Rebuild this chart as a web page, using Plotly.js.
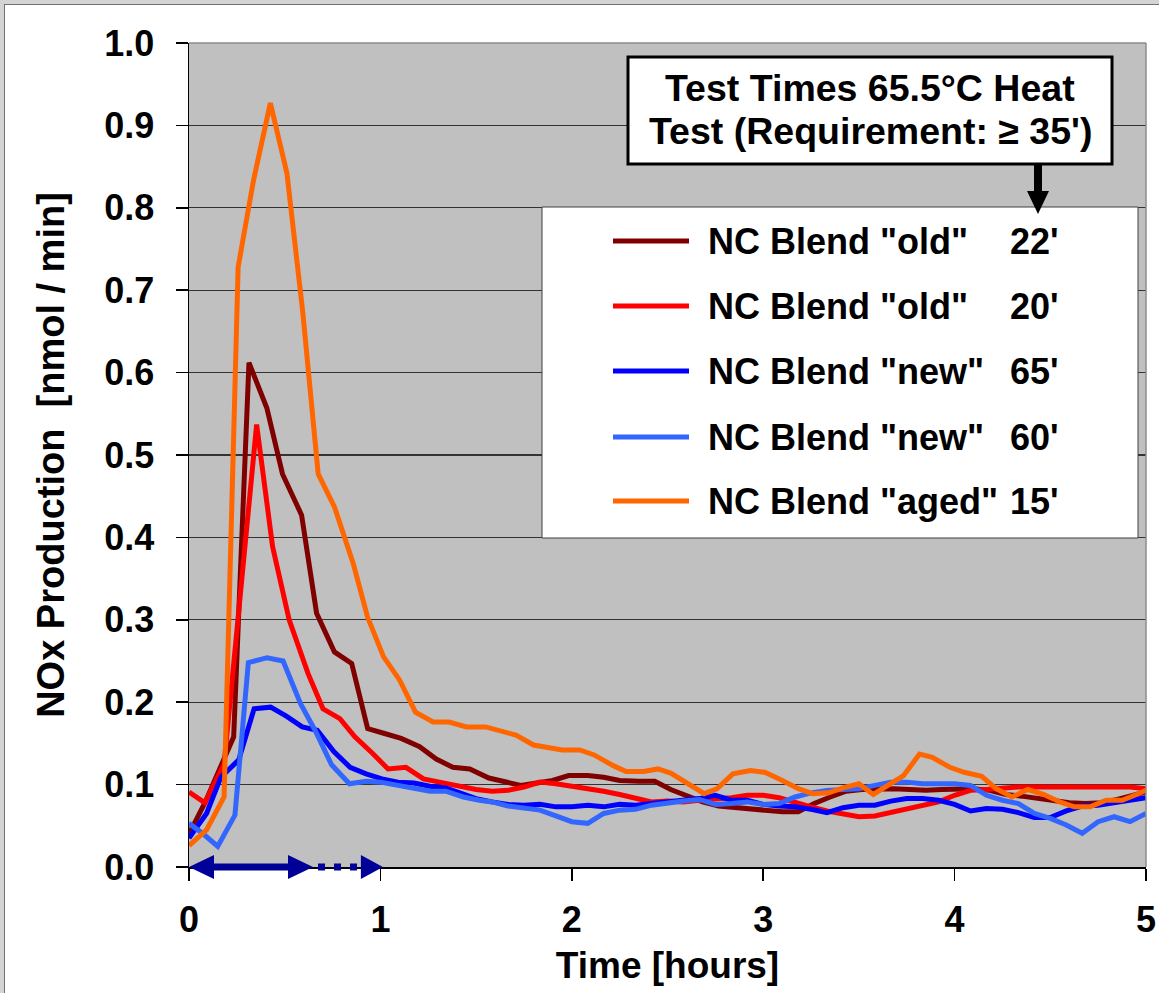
<!DOCTYPE html>
<html>
<head>
<meta charset="utf-8">
<script src="https://cdn.plot.ly/plotly-3.0.1.min.js"></script>
<style>
  html, body { margin: 0; padding: 0; background: #ffffff; }
  #chart { width: 1159px; height: 993px; }
</style>
</head>
<body>
<div id="chart"></div>
<script>
// ---------------- data (time in minutes, NOx in nmol/min) ----------------
const seriesNames = ['NC Blend "old"', 'NC Blend "old"', 'NC Blend "new"', 'NC Blend "new"', 'NC Blend "aged"'];
const testTimes = ["22'", "20'", "65'", "60'", "15'"];
const seriesColors = ['#800000', '#FF0000', '#0000FF', '#3366FF', '#FF6600'];

const timeOld22 = [0, 5, 9.5, 14, 18.8, 24.4, 29.3, 35.3, 40, 45.6, 51, 56, 61.3, 66.5, 72.3, 77.5, 82.7, 88, 94, 99,
  104, 109, 114, 119, 125, 130, 135, 141, 146, 151, 156, 161, 166, 171, 176, 181, 186, 191, 196, 201,
  206, 211, 216, 221, 226, 231, 236, 241, 246, 251, 256, 261, 266, 271, 276, 281, 286, 291, 296, 300];
const noxOld22 = [0.040, 0.078, 0.118, 0.158, 0.612, 0.557, 0.477, 0.427, 0.308, 0.261, 0.247, 0.168, 0.162, 0.156, 0.146, 0.131, 0.121, 0.119, 0.108, 0.104,
  0.099, 0.102, 0.105, 0.111, 0.111, 0.109, 0.105, 0.104, 0.104, 0.094, 0.086, 0.079, 0.074, 0.072, 0.071, 0.068, 0.067, 0.067, 0.077, 0.085,
  0.092, 0.094, 0.095, 0.095, 0.094, 0.093, 0.094, 0.095, 0.095, 0.093, 0.088, 0.086, 0.083, 0.080, 0.078, 0.077, 0.078, 0.082, 0.087, 0.091];

const timeOld20 = [0, 5, 11, 16, 21.2, 26.2, 31.4, 37.3, 42, 47.3, 52, 57.5, 62.4, 68, 73.5, 78.5, 84,
  90, 95, 100, 105, 110, 115, 120, 125, 130, 135, 140, 145, 150, 155, 160, 165, 170, 175, 180, 185,
  190, 195, 200, 205, 210, 215, 220, 225, 230, 235, 240, 245, 250, 255, 260, 265, 270, 275, 280, 285, 290, 295, 300];
const noxOld20 = [0.091, 0.078, 0.125, 0.327, 0.537, 0.389, 0.300, 0.235, 0.192, 0.180, 0.158, 0.138, 0.119, 0.121, 0.107, 0.103, 0.099,
  0.094, 0.092, 0.093, 0.097, 0.103, 0.101, 0.098, 0.096, 0.092, 0.088, 0.083, 0.079, 0.080, 0.079, 0.081, 0.082, 0.084, 0.087, 0.087, 0.084,
  0.078, 0.073, 0.068, 0.064, 0.061, 0.062, 0.066, 0.070, 0.075, 0.079, 0.087, 0.093, 0.094, 0.096, 0.097, 0.097, 0.097, 0.097, 0.097, 0.097, 0.097, 0.097, 0.095];

const timeNew65 = [0, 5.5, 10, 15.6, 20.4, 25.6, 30.5, 35.5, 40.2, 45.4, 50.5, 55.5, 60.5, 65.5, 70.5, 75.5, 80.5, 85.5,
  90, 95, 100, 105, 110, 115, 120, 125, 130, 135, 140, 145, 150, 155, 160, 165, 170, 175, 180, 185,
  190, 195, 200, 205, 210, 215, 220, 225, 230, 235, 240, 245, 250, 255, 260, 265, 270, 275, 280, 285, 290, 295, 300];
const noxNew65 = [0.035, 0.065, 0.109, 0.130, 0.192, 0.194, 0.183, 0.170, 0.166, 0.140, 0.121, 0.113, 0.107, 0.103, 0.102, 0.098, 0.096, 0.089,
  0.083, 0.079, 0.076, 0.075, 0.076, 0.073, 0.073, 0.075, 0.073, 0.076, 0.075, 0.077, 0.079, 0.081, 0.083, 0.087, 0.081, 0.081, 0.076, 0.074,
  0.073, 0.070, 0.066, 0.072, 0.075, 0.075, 0.080, 0.083, 0.083, 0.081, 0.076, 0.068, 0.071, 0.070, 0.066, 0.060, 0.060, 0.068, 0.074, 0.075, 0.078, 0.081, 0.084];

const timeNew60 = [0, 4.5, 9, 14.4, 18.6, 24.5, 29.5, 35, 39.5, 44.7, 50.3, 55.5, 60, 65, 70, 75.5, 80.5, 86, 91,
  95, 100, 105, 110, 115, 120, 125, 130, 135, 140, 145, 150, 155, 160, 165, 170, 175, 180, 185, 190,
  195, 200, 205, 210, 215, 220, 225, 230, 235, 240, 245, 250, 255, 260, 265, 270, 275, 280, 285, 290, 295, 300];
const noxNew60 = [0.053, 0.040, 0.025, 0.063, 0.248, 0.254, 0.250, 0.198, 0.166, 0.124, 0.101, 0.104, 0.103, 0.099, 0.096, 0.092, 0.092, 0.085, 0.081,
  0.079, 0.074, 0.071, 0.069, 0.062, 0.055, 0.053, 0.065, 0.069, 0.070, 0.075, 0.078, 0.080, 0.082, 0.076, 0.077, 0.079, 0.076, 0.077, 0.085,
  0.090, 0.093, 0.094, 0.095, 0.099, 0.103, 0.103, 0.101, 0.101, 0.101, 0.099, 0.087, 0.081, 0.077, 0.065, 0.059, 0.051, 0.041, 0.055, 0.061, 0.055, 0.065];

const timeAged15 = [0, 5.5, 11, 15.4, 20.2, 25.5, 30.7, 35.7, 40.5, 45.6, 51.5, 56, 61, 66, 71, 76.5, 81.5, 87, 93, 97.5,
  102.5, 108, 113, 117, 122.5, 127, 133, 137, 142.5, 147, 151, 157, 161.5, 165.5, 170.5, 176, 180.5, 186, 191, 195.5,
  200.5, 205, 210, 214.5, 219, 224, 229, 233, 238.5, 243, 248.5, 253, 258, 263, 268, 273, 277.5, 282.5, 287.5, 292.5, 297, 300];
const noxAged15 = [0.026, 0.045, 0.085, 0.728, 0.833, 0.927, 0.842, 0.672, 0.477, 0.437, 0.368, 0.303, 0.255, 0.227, 0.188, 0.176, 0.176, 0.170, 0.170, 0.166,
  0.160, 0.148, 0.144, 0.142, 0.142, 0.136, 0.123, 0.116, 0.116, 0.119, 0.114, 0.099, 0.089, 0.095, 0.113, 0.117, 0.115, 0.105, 0.095, 0.089,
  0.090, 0.096, 0.101, 0.088, 0.099, 0.111, 0.137, 0.133, 0.121, 0.115, 0.110, 0.095, 0.085, 0.094, 0.088, 0.079, 0.073, 0.073, 0.081, 0.081, 0.088, 0.093];

const xTickVals = [0, 1, 2, 3, 4, 5];
const yTickVals = [0, 0.1, 0.2, 0.3, 0.4, 0.5, 0.6, 0.7, 0.8, 0.9, 1.0];
const xTitle = 'Time [hours]';
const yTitle = 'NOx Production  [nmol / min]';
const noteLines = ['Test Times 65.5°C Heat', "Test (Requirement: \u2265 35')"];
// requirement arrow along the time axis (hours)
const reqSolidEnd = 0.648;
const reqDottedEnd = 1.013;

// ---------------- layout helpers (pixel -> paper) ----------------
const W = 1159, H = 993;
const PL = 189, PT = 43, PR = 1146, PB = 867;
const PW = PR - PL, PH = PB - PT;
const X = p => (p - PL) / PW;
const Y = p => (PB - p) / PH;
const xRange = [0, 5];
const hoursToPaper = t => (t - xRange[0]) / (xRange[1] - xRange[0]);
const hoursToPx = t => PL + hoursToPaper(t) * PW;

const FONT = 'Arial, "Liberation Sans", Helvetica, sans-serif';
const bold = (size, color) => ({ family: FONT, size: size, color: color || '#000000', weight: 700 });

const times = [timeOld22, timeOld20, timeNew65, timeNew60, timeAged15];
const values = [noxOld22, noxOld20, noxNew65, noxNew60, noxAged15];

const traces = values.map((v, i) => ({
  type: 'scatter',
  mode: 'lines',
  x: times[i].map(m => m / 60),
  y: v,
  name: seriesNames[i] + ' ' + testTimes[i],
  line: { color: seriesColors[i], width: 5 },
  showlegend: false,
  hoverinfo: 'skip'
}));

const shapes = [];
const annotations = [];

// outer window frame
shapes.push({ type: 'rect', xref: 'paper', yref: 'paper', x0: X(0), x1: X(W), y0: Y(0), y1: Y(4), fillcolor: '#d4d4d4', line: { width: 0 }, layer: 'above' });
shapes.push({ type: 'rect', xref: 'paper', yref: 'paper', x0: X(0), x1: X(4), y0: Y(0), y1: Y(H), fillcolor: '#d4d4d4', line: { width: 0 }, layer: 'above' });
shapes.push({ type: 'line', xref: 'paper', yref: 'paper', x0: X(4), x1: X(W), y0: Y(4.5), y1: Y(4.5), line: { color: '#707070', width: 1 }, layer: 'above' });
shapes.push({ type: 'line', xref: 'paper', yref: 'paper', x0: X(4.5), x1: X(4.5), y0: Y(4), y1: Y(H), line: { color: '#707070', width: 1 }, layer: 'above' });

// plot area top/right border (gray)
shapes.push({ type: 'line', xref: 'paper', yref: 'paper', x0: 0, x1: 1, y0: 1, y1: 1, line: { color: '#8c8c8c', width: 1.5 }, layer: 'above' });
shapes.push({ type: 'line', xref: 'paper', yref: 'paper', x0: 1, x1: 1, y0: 0, y1: 1, line: { color: '#8c8c8c', width: 1.5 }, layer: 'above' });

// legend box
const LEG = { x0: 542, x1: 1138, y0: 207, y1: 538 };
shapes.push({ type: 'rect', xref: 'paper', yref: 'paper', x0: X(LEG.x0), x1: X(LEG.x1), y0: Y(LEG.y1), y1: Y(LEG.y0),
  fillcolor: '#ffffff', line: { color: '#404040', width: 1 }, layer: 'above' });
const legRows = [241, 306, 371, 437, 501];
seriesNames.forEach((nm, i) => {
  shapes.push({ type: 'line', xref: 'paper', yref: 'paper', x0: X(613), x1: X(689), y0: Y(legRows[i]), y1: Y(legRows[i]),
    line: { color: seriesColors[i], width: 5 }, layer: 'above' });
  annotations.push({ xref: 'paper', yref: 'paper', x: X(706), y: Y(legRows[i]), xanchor: 'left', yanchor: 'middle',
    text: nm, showarrow: false, font: bold(36) });
  annotations.push({ xref: 'paper', yref: 'paper', x: X(1008), y: Y(legRows[i]), xanchor: 'left', yanchor: 'middle',
    text: testTimes[i], showarrow: false, font: bold(36) });
});

// note box + arrow
shapes.push({ type: 'rect', xref: 'paper', yref: 'paper', x0: X(628), x1: X(1112), y0: Y(164), y1: Y(57),
  fillcolor: '#ffffff', line: { color: '#000000', width: 3 }, layer: 'above' });
const noteRows = [88, 131];
noteLines.forEach((ln, i) => {
  annotations.push({ xref: 'paper', yref: 'paper', x: X(870), y: Y(noteRows[i]), xanchor: 'center', yanchor: 'middle',
    text: ln, showarrow: false, align: 'center', font: bold(37.5) });
});
shapes.push({ type: 'line', xref: 'paper', yref: 'paper', x0: X(1038), x1: X(1038), y0: Y(165), y1: Y(194),
  line: { color: '#000000', width: 8 }, layer: 'above' });
shapes.push({ type: 'path', xref: 'paper', yref: 'paper', layer: 'above', fillcolor: '#000000', line: { width: 0 },
  path: `M ${X(1027)},${Y(191)} L ${X(1049)},${Y(191)} L ${X(1038)},${Y(214)} Z` });

// requirement double arrow on the time axis
const AC = '#000099';
const ay = PB, headLen = 25, headHalf = 12;
const xStart = hoursToPx(0), xSolid = hoursToPx(reqSolidEnd), xDot = hoursToPx(reqDottedEnd);
shapes.push({ type: 'line', xref: 'paper', yref: 'paper', x0: X(xStart + headLen - 2), x1: X(xSolid - headLen + 2), y0: Y(ay), y1: Y(ay),
  line: { color: AC, width: 7 }, layer: 'above' });
shapes.push({ type: 'path', xref: 'paper', yref: 'paper', layer: 'above', fillcolor: AC, line: { width: 0 },
  path: `M ${X(xStart)},${Y(ay)} L ${X(xStart + headLen)},${Y(ay - headHalf)} L ${X(xStart + headLen)},${Y(ay + headHalf)} Z` });
shapes.push({ type: 'path', xref: 'paper', yref: 'paper', layer: 'above', fillcolor: AC, line: { width: 0 },
  path: `M ${X(xSolid)},${Y(ay)} L ${X(xSolid - headLen)},${Y(ay - headHalf)} L ${X(xSolid - headLen)},${Y(ay + headHalf)} Z` });
shapes.push({ type: 'line', xref: 'paper', yref: 'paper', x0: X(xSolid + 5), x1: X(xDot - 22), y0: Y(ay), y1: Y(ay),
  line: { color: AC, width: 7, dash: '7px,9px' }, layer: 'above' });
shapes.push({ type: 'path', xref: 'paper', yref: 'paper', layer: 'above', fillcolor: AC, line: { width: 0 },
  path: `M ${X(xDot)},${Y(ay)} L ${X(xDot - 22)},${Y(ay - headHalf)} L ${X(xDot - 22)},${Y(ay + headHalf)} Z` });

const layout = {
  width: W, height: H,
  margin: { l: PL, r: W - PR, t: PT, b: H - PB, pad: 0, autoexpand: false },
  paper_bgcolor: '#ffffff',
  plot_bgcolor: '#C0C0C0',
  showlegend: false,
  xaxis: {
    range: xRange, tickvals: xTickVals, ticktext: xTickVals.map(String),
    ticks: 'outside', ticklen: 12, tickwidth: 1.5, tickcolor: '#000000',
    showline: true, linecolor: '#000000', linewidth: 1.5,
    showgrid: false, zeroline: false,
    tickfont: bold(36), ticklabelstandoff: 8,
    title: { text: xTitle, font: bold(37), standoff: 13 },
    automargin: false, fixedrange: true
  },
  yaxis: {
    range: [0, 1.0], tickvals: yTickVals, ticktext: yTickVals.map(v => v.toFixed(1)),
    ticks: 'outside', ticklen: 12, tickwidth: 1.5, tickcolor: '#000000',
    showline: true, linecolor: '#000000', linewidth: 1.5,
    showgrid: true, gridcolor: '#333333', gridwidth: 1.3, zeroline: false,
    tickfont: bold(36), ticklabelstandoff: 14,
    title: { text: yTitle, font: bold(38), standoff: 28 },
    automargin: false, fixedrange: true
  },
  shapes: shapes,
  annotations: annotations
};

Plotly.newPlot('chart', traces, layout, { staticPlot: true, displayModeBar: false });
</script>
</body>
</html>
